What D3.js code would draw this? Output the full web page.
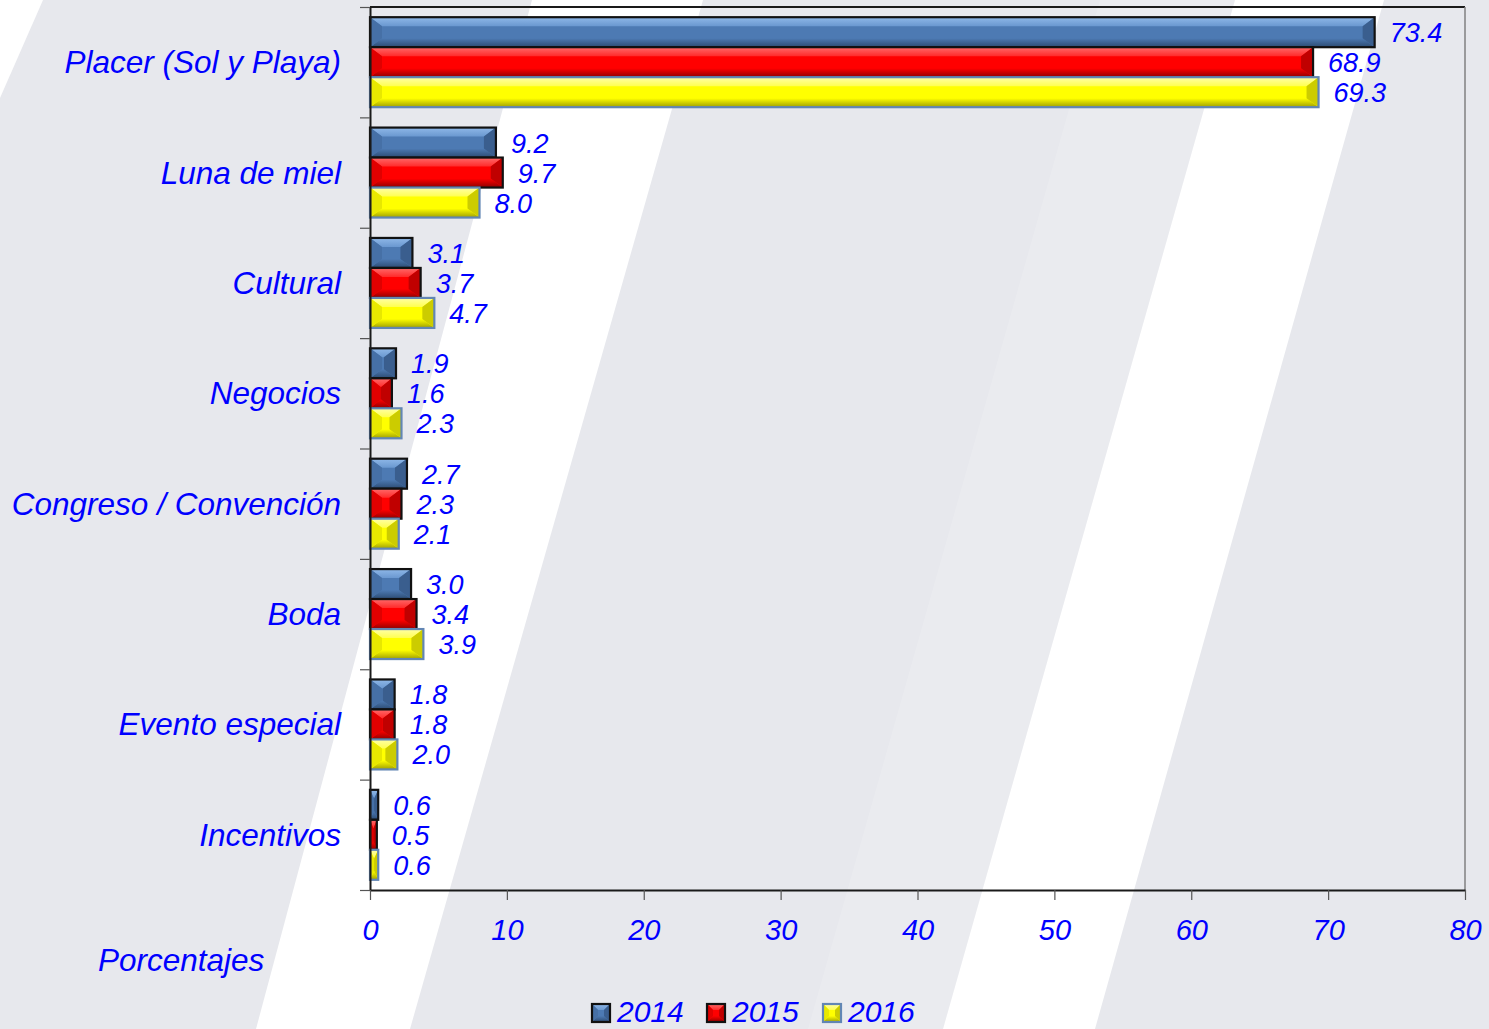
<!DOCTYPE html>
<html>
<head>
<meta charset="utf-8">
<script src="https://cdn.jsdelivr.net/npm/d3@7"></script>
<style>
  html, body { margin: 0; padding: 0; background: #e7e8ed; }
  svg { display: block; }
  text { font-family: "Liberation Sans", Arial, sans-serif; font-style: italic; fill: #0000ff; }
</style>
</head>
<body>
<svg id="chart" width="1489" height="1029"></svg>
<script>
// Motivo de viaje, porcentaje de turistas por año
const categories = ["Placer (Sol y Playa)", "Luna de miel", "Cultural", "Negocios",
                    "Congreso / Convención", "Boda", "Evento especial", "Incentivos"];
const years = ["2014", "2015", "2016"];
const values2014 = [73.4, 9.2, 3.1, 1.9, 2.7, 3.0, 1.8, 0.6];
const values2015 = [68.9, 9.7, 3.7, 1.6, 2.3, 3.4, 1.8, 0.5];
const values2016 = [69.3, 8.0, 4.7, 2.3, 2.1, 3.9, 2.0, 0.6];
const xTicks = [0, 10, 20, 30, 40, 50, 60, 70, 80];
const axisTitle = "Porcentajes";

const seriesValues = [values2014, values2015, values2016];

// Facet colours for the bevelled bars: top highlight, top inner, middle, bottom, left, right, border
const palettes = {
  "2014": { key: "b", top: "#8fb8e8", top2: "#6a98d0", mid: "#4d7ab3", bot: "#2c4b72", left: "#4670a6", right: "#3a5e8e", stroke: "#111111" },
  "2015": { key: "r", top: "#ff6a6a", top2: "#ff2a2a", mid: "#ff0000", bot: "#900000", left: "#e00000", right: "#c00000", stroke: "#111111" },
  "2016": { key: "y", top: "#ffffa8", top2: "#ffff50", mid: "#ffff00", bot: "#a0a000", left: "#e8e800", right: "#cccc00", stroke: "#6286b4" }
};

const W = 1489, H = 1029;
const plot = { left: 370, right: 1465, top: 7, bottom: 890 };

const svg = d3.select("#chart");
const defs = svg.append("defs");
Object.values(palettes).forEach(p => {
  const gt = defs.append("linearGradient").attr("id", "top-" + p.key).attr("x1", 0).attr("x2", 0).attr("y1", 0).attr("y2", 1);
  gt.append("stop").attr("offset", "0%").attr("stop-color", p.top);
  gt.append("stop").attr("offset", "100%").attr("stop-color", p.top2);
  const gb = defs.append("linearGradient").attr("id", "bot-" + p.key).attr("x1", 0).attr("x2", 0).attr("y1", 0).attr("y2", 1);
  gb.append("stop").attr("offset", "0%").attr("stop-color", p.mid);
  gb.append("stop").attr("offset", "100%").attr("stop-color", p.bot);
});

// Background with slanted white stripes
const bg = svg.append("g");
bg.append("rect").attr("width", W).attr("height", H).attr("fill", "#e7e8ed");
const softBands = [
  [[1100, 0], [1235, 0], [943, 1029], [808, 1029]]
];
softBands.forEach(p => bg.append("polygon").attr("points", p.join(" ")).attr("fill", "#ffffff").attr("opacity", 0.15));
const stripes = [
  [[0, 0], [43, 0], [0, 98]],
  [[532, 0], [703, 0], [410, 1029], [256, 1029]],
  [[1235, 0], [1384, 0], [1095, 1029], [943, 1029]]
];
stripes.forEach(p => bg.append("polygon").attr("points", p.join(" ")).attr("fill", "#ffffff"));

// Scales
const x = d3.scaleLinear().domain([0, 80]).range([plot.left, plot.right]);
const y = d3.scaleBand().domain(categories).range([plot.top, plot.bottom]).paddingInner(0).paddingOuter(0);
const ySub = d3.scaleBand().domain(years).range([0, y.bandwidth()]).paddingInner(0).paddingOuter(0.34);

// Plot frame: top (dark) and right (grey)
svg.append("line").attr("x1", plot.left).attr("x2", plot.right).attr("y1", plot.top).attr("y2", plot.top)
  .attr("stroke", "#1a1a1a").attr("stroke-width", 2);
svg.append("line").attr("x1", plot.right).attr("x2", plot.right).attr("y1", plot.top).attr("y2", plot.bottom)
  .attr("stroke", "#808080").attr("stroke-width", 1.5);

// Bevelled bar drawing
function bevelBar(g, x0, x1, y0, y1, pal, bevX, bevY) {
  const w = x1 - x0, h = y1 - y0;
  const bx = Math.min(bevX, w / 2), by = Math.min(bevY, h / 2);
  g.append("rect").attr("x", x0).attr("y", y0).attr("width", w).attr("height", h).attr("fill", pal.mid);
  const facets = [
    { pts: [[x0, y0], [x1, y0], [x1 - bx, y0 + by], [x0 + bx, y0 + by]], fill: `url(#top-${pal.key})` },
    { pts: [[x0, y1], [x1, y1], [x1 - bx, y1 - by], [x0 + bx, y1 - by]], fill: `url(#bot-${pal.key})` },
    { pts: [[x0, y0], [x0 + bx, y0 + by], [x0 + bx, y1 - by], [x0, y1]], fill: pal.left },
    { pts: [[x1, y0], [x1 - bx, y0 + by], [x1 - bx, y1 - by], [x1, y1]], fill: pal.right }
  ];
  facets.forEach(f => g.append("polygon").attr("points", f.pts.join(" ")).attr("fill", f.fill));
  g.append("rect").attr("x", x0).attr("y", y0).attr("width", w).attr("height", h)
    .attr("fill", "none").attr("stroke", pal.stroke).attr("stroke-width", 2.2);
}

// Bars and value labels
const barsG = svg.append("g");
categories.forEach((cat, ci) => {
  years.forEach((yr, si) => {
    const v = seriesValues[si][ci];
    const y0 = y(cat) + ySub(yr);
    const y1 = y0 + ySub.bandwidth();
    bevelBar(barsG.append("g"), x(0), x(v), y0, y1, palettes[yr], 12, 9);
    barsG.append("text")
      .attr("x", x(v) + 15)
      .attr("y", (y0 + y1) / 2 + 10)
      .attr("font-size", 27)
      .text(v.toFixed(1));
  });
});

// Category labels
svg.append("g").selectAll("text").data(categories).join("text")
  .attr("x", 341)
  .attr("y", d => y(d) + y.bandwidth() / 2 + 11)
  .attr("text-anchor", "end")
  .attr("font-size", 31.5)
  .text(d => d);

// Left axis: ticks at category boundaries
const yEdges = d3.scaleLinear().domain([0, categories.length]).range([plot.top, plot.bottom]);
const yAxis = svg.append("g").attr("transform", `translate(${plot.left},0)`)
  .call(d3.axisLeft(yEdges).tickValues(d3.range(categories.length + 1)).tickFormat("").tickSize(10).tickSizeOuter(0));
yAxis.select(".domain").attr("stroke", "#1a1a1a").attr("stroke-width", 2);
yAxis.selectAll(".tick line").attr("stroke", "#555").attr("stroke-width", 1.2);

// Bottom axis
const xAxis = svg.append("g").attr("transform", `translate(0,${plot.bottom})`)
  .call(d3.axisBottom(x).tickValues(xTicks).tickSize(10).tickSizeOuter(0).tickPadding(0));
xAxis.select(".domain").attr("stroke", "#1a1a1a").attr("stroke-width", 2);
xAxis.selectAll(".tick line").attr("stroke", "#555").attr("stroke-width", 1.2);
xAxis.selectAll(".tick text")
  .attr("y", 50).attr("dy", null)
  .attr("font-size", 29)
  .style("font-family", '"Liberation Sans", Arial, sans-serif')
  .style("font-style", "italic")
  .attr("fill", "#0000ff");

// Axis title
svg.append("text").attr("x", 98).attr("y", 971).attr("font-size", 31.5).text(axisTitle);

// Legend
const legend = svg.append("g");
const legendX = [592, 707, 823];
years.forEach((yr, i) => {
  bevelBar(legend.append("g"), legendX[i], legendX[i] + 18, 1004, 1022, palettes[yr], 6, 6);
  legend.append("text").attr("x", legendX[i] + 25).attr("y", 1022).attr("font-size", 30).text(yr);
});
</script>
</body>
</html>
